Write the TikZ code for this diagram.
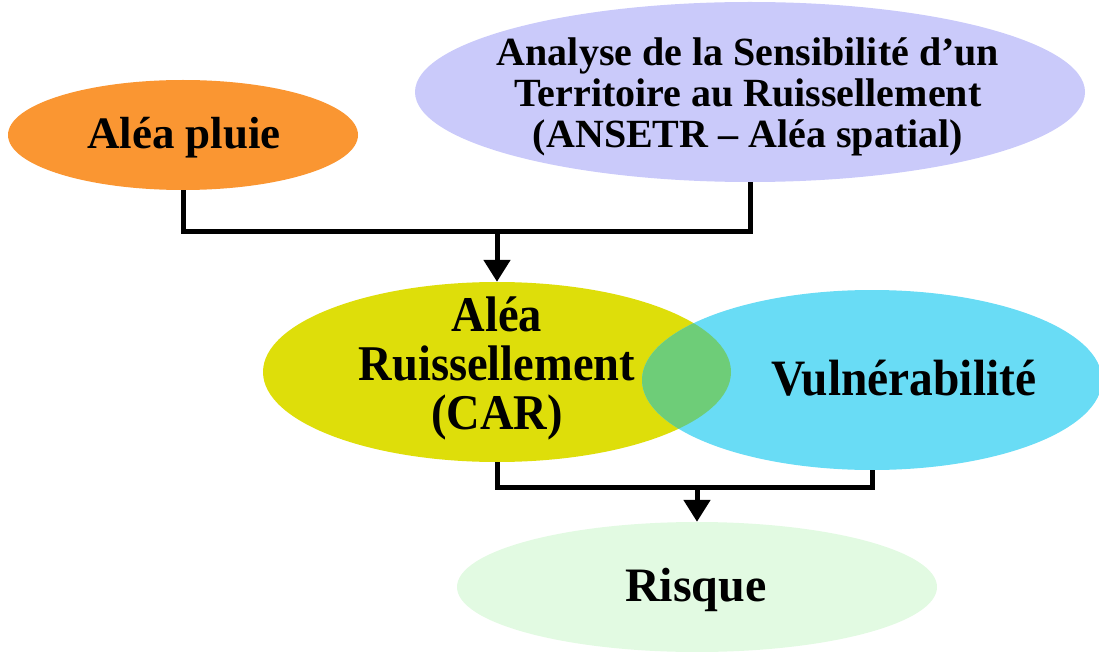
\documentclass[tikz,border=0pt]{standalone}
\usepackage{fontspec}
\setmainfont{Liberation Serif}
\newfontfamily\narrowserif[FakeStretch=0.93]{Liberation Serif}
\usetikzlibrary{shapes.geometric,arrows.meta}
\definecolor{pluiecol}{RGB}{250,150,50}
\definecolor{ansetrcol}{RGB}{202,202,250}
\definecolor{ruiscol}{RGB}{222,222,10}
\definecolor{vulncol}{RGB}{105,220,245}
\definecolor{overlapcol}{RGB}{110,205,120}
\definecolor{risquecol}{RGB}{226,250,226}

\begin{document}
\begin{tikzpicture}[x=1pt,y=-1pt,
    zone/.style={ellipse,inner sep=0pt,draw=none},
    lbl/.style={align=center,inner sep=0pt},
    link/.style={line width=5pt},
    flow/.style={link,-{Triangle[width=26pt,length=22pt]}}]
  \useasboundingbox (0,0) rectangle (1099,652);
    \node[zone,fill=pluiecol,minimum width=350pt,minimum height=110pt] (pluie) at (183,135) {};
    \node[zone,fill=ansetrcol,minimum width=670pt,minimum height=180pt] (ansetr) at (750,92) {};
    \node[zone,fill=ruiscol,minimum width=468pt,minimum height=180pt] (ruis) at (497,372) {};
    \node[zone,fill=vulncol,minimum width=460pt,minimum height=180pt] (vuln) at (872,380) {};
    \begin{scope}
      \clip (ruis.center) ellipse [x radius=234pt, y radius=90pt];
      \fill[overlapcol] (vuln.center) ellipse [x radius=230pt, y radius=90pt];
    \end{scope}
    \node[zone,fill=risquecol,minimum width=480pt,minimum height=130pt] (risque) at (697,587) {};

    \node[lbl,font=\fontsize{45}{50}\selectfont\bfseries] (pluietxt) at (184,138) {Aléa pluie};
    \node[lbl,font=\fontsize{40}{41}\selectfont\bfseries] (ansetrtxt) at (748,97)
      {Analyse de la Sensibilité d’un\\Territoire au Ruissellement\\(ANSETR – Aléa spatial)};
    \node[lbl,font=\narrowserif\fontsize{50}{49}\selectfont\bfseries] (ruistxt) at (497,368)
      {Aléa\\Ruissellement\\(CAR)};
    \node[lbl,font=\narrowserif\fontsize{51}{56}\selectfont\bfseries] (vulntxt) at (904,378) {Vulnérabilité};
    \node[lbl,font=\fontsize{48}{52}\selectfont\bfseries] (risquetxt) at (696,590) {Risque};

    \coordinate (jonction) at (497,232);
    \coordinate (jonction2) at (697,487);
    \draw[link] (pluie.south) |- (jonction) -| (ansetr.south);
    \draw[flow] (jonction) -- (ruis.north);
    \draw[link] (ruis.south) |- (jonction2) -| (vuln.south);
    \draw[flow] (jonction2) -- (risque.north);
\end{tikzpicture}
\end{document}
